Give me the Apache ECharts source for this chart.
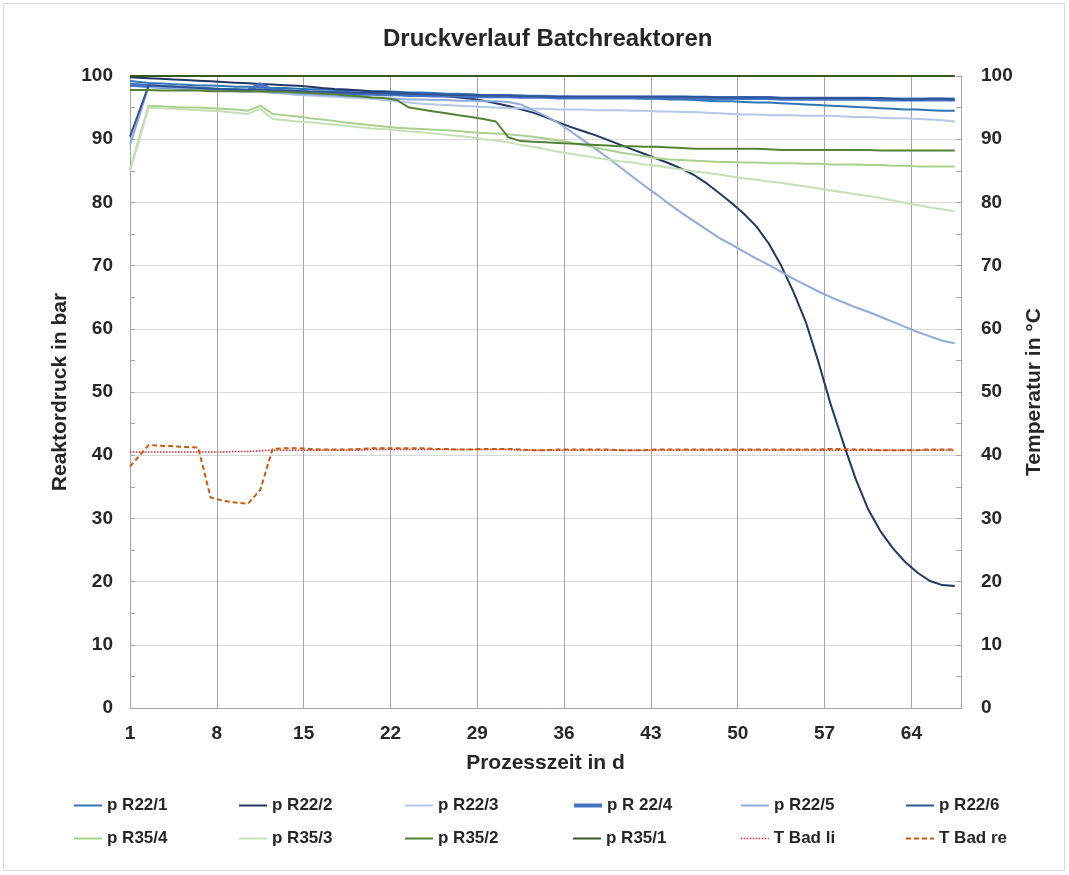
<!DOCTYPE html>
<html>
<head>
<meta charset="utf-8">
<script src="https://cdn.jsdelivr.net/npm/echarts@6/dist/echarts.min.js"></script>
<style>
html,body{margin:0;padding:0;background:#fff;}
#chart{width:1069px;height:875px;}
</style>
</head>
<body>
<div id="chart"></div>
<script>
// Process time (days) of each sample
const days = [1, 2.5, 3.5, 4.5, 5.5, 6.5, 7.5, 8.5, 9.5, 10.5,
  11.5, 12.5, 13.5, 14.5, 15.5, 16.5, 17.5, 18.5, 19.5, 20.5,
  21.5, 22.5, 23.5, 24.5, 25.5, 26.5, 27.5, 28.5, 29.5, 30.5,
  31.5, 32.5, 33.5, 34.5, 35.5, 36.5, 37.5, 38.5, 39.5, 40.5,
  41.5, 42.5, 43.5, 44.5, 45.5, 46.5, 47.5, 48.5, 49.5, 50.5,
  51.5, 52.5, 53.5, 54.5, 55.5, 56.5, 57.5, 58.5, 59.5, 60.5,
  61.5, 62.5, 63.5, 64.5, 65.5, 66.5, 67.5];

const xTicks = [1, 8, 15, 22, 29, 36, 43, 50, 57, 64];

const pR22_1 = [99.2, 98.9, 98.8, 98.7, 98.6, 98.5, 98.5, 98.4, 98.3, 98.3,
  98.2, 98.1, 98.1, 98.0, 97.9, 97.9, 97.8, 97.7, 97.7, 97.6,
  97.6, 97.5, 97.4, 97.4, 97.3, 97.2, 97.2, 97.1, 97.0, 97.0,
  96.9, 96.9, 96.8, 96.8, 96.7, 96.7, 96.6, 96.6, 96.6, 96.5,
  96.5, 96.4, 96.4, 96.3, 96.3, 96.2, 96.1, 96.0, 96.0, 95.9,
  95.8, 95.8, 95.7, 95.6, 95.5, 95.4, 95.3, 95.2, 95.1, 95.0,
  94.9, 94.8, 94.7, 94.7, 94.6, 94.5, 94.5];

const pR22_2 = [99.8, 99.65, 99.55, 99.45, 99.35, 99.25, 99.15, 99.05, 98.95, 98.85,
  98.75, 98.65, 98.55, 98.45, 98.3, 98.1, 97.95, 97.85, 97.7, 97.55,
  97.45, 97.35, 97.25, 97.15, 97.0, 96.8, 96.6, 96.4, 96.1, 95.7,
  95.25, 94.75, 94.2, 93.5, 92.7, 91.95, 91.3, 90.65, 89.9, 89.15,
  88.4, 87.65, 86.9, 86.15, 85.3, 84.3, 83.0, 81.5, 79.9, 78.2,
  76.2, 73.5, 70.0, 65.8, 61.0, 54.8, 48.0, 42.0, 36.3, 31.5,
  28.0, 25.3, 23.1, 21.4, 20.1, 19.45, 19.3];

const pR22_3 = [98.8, 98.6, 98.5, 98.4, 98.2, 98.1, 98.0, 97.9, 97.7, 97.6,
  97.5, 97.3, 97.2, 97.0, 96.9, 96.8, 96.7, 96.6, 96.5, 96.4,
  96.2, 96.0, 95.8, 95.6, 95.5, 95.4, 95.3, 95.2, 95.1, 95.0,
  94.9, 94.9, 94.8, 94.8, 94.7, 94.7, 94.7, 94.6, 94.6, 94.6,
  94.5, 94.5, 94.4, 94.4, 94.3, 94.3, 94.2, 94.1, 94.0, 93.9,
  93.9, 93.8, 93.8, 93.8, 93.7, 93.7, 93.7, 93.6, 93.5, 93.5,
  93.4, 93.3, 93.3, 93.2, 93.1, 93.0, 92.8];

const pR22_4 = [98.6, 98.4, 98.3, 98.2, 98.1, 98.0, 97.9, 97.8, 97.8, 97.7,
  98.7, 97.7, 97.6, 97.5, 97.4, 97.4, 97.3, 97.3, 97.2, 97.2,
  97.1, 97.1, 97.0, 97.0, 96.9, 96.9, 96.9, 96.8, 96.8, 96.8,
  96.8, 96.7, 96.7, 96.7, 96.6, 96.6, 96.6, 96.6, 96.6, 96.6,
  96.6, 96.6, 96.6, 96.6, 96.6, 96.5, 96.5, 96.5, 96.5, 96.5,
  96.5, 96.5, 96.4, 96.4, 96.4, 96.4, 96.4, 96.4, 96.4, 96.4,
  96.3, 96.3, 96.3, 96.3, 96.3, 96.3, 96.3];

const pR22_5 = [89.1, 98.3, 98.2, 98.1, 98.0, 97.9, 97.8, 97.7, 97.6, 97.5,
  97.6, 97.4, 97.3, 97.2, 97.1, 97.0, 96.9, 96.8, 96.7, 96.6,
  96.5, 96.4, 96.3, 96.3, 96.2, 96.2, 96.1, 96.1, 96.0, 96.0,
  95.9, 95.5, 94.6, 93.7, 92.6, 91.3, 89.9, 88.5, 87.1, 85.6,
  84.1, 82.6, 81.2, 79.7, 78.3, 77.0, 75.7, 74.4, 73.3, 72.2,
  71.1, 70.1, 69.0, 67.9, 66.9, 65.9, 65.0, 64.2, 63.4, 62.7,
  61.9, 61.1, 60.3, 59.5, 58.8, 58.1, 57.7];

const pR22_6 = [90.4, 98.5, 98.4, 98.3, 98.2, 98.1, 98.0, 97.9, 97.8, 97.8,
  97.9, 97.7, 97.7, 97.6, 97.5, 97.5, 97.4, 97.4, 97.3, 97.3,
  97.3, 97.2, 97.2, 97.1, 97.1, 97.0, 97.0, 97.0, 96.9, 96.9,
  96.9, 96.8, 96.8, 96.7, 96.7, 96.7, 96.7, 96.7, 96.7, 96.7,
  96.7, 96.7, 96.7, 96.7, 96.7, 96.7, 96.7, 96.6, 96.6, 96.6,
  96.6, 96.6, 96.5, 96.5, 96.5, 96.5, 96.5, 96.5, 96.5, 96.5,
  96.5, 96.4, 96.3, 96.3, 96.4, 96.4, 96.3];

const pR35_4 = [85.2, 95.3, 95.2, 95.1, 95.0, 95.0, 94.9, 94.8, 94.7, 94.5,
  95.3, 94.0, 93.8, 93.6, 93.3, 93.1, 92.9, 92.6, 92.4, 92.2,
  92.0, 91.8, 91.7, 91.6, 91.5, 91.4, 91.3, 91.1, 91.0, 90.9,
  90.8, 90.6, 90.4, 90.1, 89.8, 89.5, 89.1, 88.7, 88.3, 87.9,
  87.6, 87.3, 87.0, 86.8, 86.7, 86.6, 86.5, 86.4, 86.4, 86.3,
  86.3, 86.2, 86.2, 86.2, 86.1, 86.1, 86.0, 86.0, 86.0, 85.9,
  85.9, 85.8, 85.8, 85.7, 85.7, 85.7, 85.7];

const pR35_3 = [85.0, 95.0, 94.9, 94.8, 94.7, 94.6, 94.5, 94.4, 94.2, 94.0,
  94.8, 93.2, 93.0, 92.8, 92.7, 92.5, 92.3, 92.1, 91.9, 91.7,
  91.6, 91.4, 91.2, 91.1, 90.9, 90.7, 90.5, 90.3, 90.0, 89.8,
  89.5, 89.1, 88.8, 88.4, 88.0, 87.7, 87.4, 87.1, 86.8, 86.5,
  86.3, 86.0, 85.8, 85.5, 85.2, 84.9, 84.7, 84.4, 84.1, 83.8,
  83.6, 83.3, 83.1, 82.8, 82.5, 82.2, 81.9, 81.6, 81.3, 81.0,
  80.7, 80.3, 79.9, 79.6, 79.2, 78.9, 78.6];

const pR35_2 = [97.8, 97.8, 97.7, 97.7, 97.7, 97.7, 97.6, 97.6, 97.6, 97.6,
  97.6, 97.5, 97.5, 97.4, 97.3, 97.2, 97.1, 96.9, 96.8, 96.6,
  96.5, 96.2, 95.0, 94.7, 94.4, 94.1, 93.8, 93.5, 93.2, 92.8,
  90.3, 89.7, 89.6, 89.5, 89.4, 89.3, 89.2, 89.1, 89.0, 88.9,
  88.9, 88.8, 88.8, 88.7, 88.6, 88.5, 88.5, 88.5, 88.5, 88.5,
  88.5, 88.4, 88.3, 88.3, 88.3, 88.3, 88.3, 88.3, 88.3, 88.3,
  88.2, 88.2, 88.2, 88.2, 88.2, 88.2, 88.2];

const pR35_1 = [100, 100, 100, 100, 100, 100, 100, 100, 100, 100,
  100, 100, 100, 100, 100, 100, 100, 100, 100, 100,
  100, 100, 100, 100, 100, 100, 100, 100, 100, 100,
  100, 100, 100, 100, 100, 100, 100, 100, 100, 100,
  100, 100, 100, 100, 100, 100, 100, 100, 100, 100,
  100, 100, 100, 100, 100, 100, 100, 100, 100, 100,
  100, 100, 100, 100, 100, 100, 100];

const tBadLi = [40.5, 40.5, 40.5, 40.5, 40.5, 40.5, 40.5, 40.5, 40.6, 40.6,
  40.7, 40.8, 40.8, 40.8, 40.8, 40.8, 40.8, 40.8, 40.8, 40.9,
  40.9, 40.9, 40.9, 40.9, 40.9, 40.9, 40.9, 40.9, 40.9, 40.9,
  40.9, 40.8, 40.8, 40.8, 40.8, 40.8, 40.8, 40.8, 40.8, 40.8,
  40.8, 40.8, 40.8, 40.8, 40.8, 40.8, 40.8, 40.8, 40.8, 40.8,
  40.8, 40.8, 40.8, 40.8, 40.8, 40.8, 40.8, 40.8, 40.8, 40.8,
  40.8, 40.8, 40.8, 40.8, 40.8, 40.8, 40.8];

const tBadRe = [38.2, 41.6, 41.5, 41.4, 41.3, 41.2, 33.3, 32.8, 32.5, 32.3,
  34.5, 41.0, 41.1, 41.1, 41.0, 40.9, 40.9, 40.9, 41.0, 41.1,
  41.1, 41.1, 41.1, 41.1, 41.0, 41.0, 40.9, 40.9, 41.0, 41.0,
  41.0, 40.9, 40.8, 40.8, 40.9, 40.9, 40.9, 40.9, 40.9, 40.8,
  40.8, 40.8, 40.9, 40.9, 40.9, 40.9, 40.9, 40.9, 40.9, 40.9,
  40.9, 40.9, 40.9, 40.9, 40.9, 40.9, 41.0, 41.0, 40.9, 40.9,
  40.8, 40.8, 40.8, 40.8, 40.9, 40.9, 40.9];

const seriesDefs = [
  {name: 'p R22/1', data: pR22_1, color: '#2E75B6', width: 2, type: 'solid', axis: 0},
  {name: 'p R22/2', data: pR22_2, color: '#203864', width: 2, type: 'solid', axis: 0},
  {name: 'p R22/3', data: pR22_3, color: '#B4C7E7', width: 2, type: 'solid', axis: 0},
  {name: 'p R 22/4', data: pR22_4, color: '#4472C4', width: 4, type: 'solid', axis: 0},
  {name: 'p R22/5', data: pR22_5, color: '#8FAADC', width: 2, type: 'solid', axis: 0},
  {name: 'p R22/6', data: pR22_6, color: '#2F5597', width: 2, type: 'solid', axis: 0},
  {name: 'p R35/4', data: pR35_4, color: '#A9D18E', width: 2, type: 'solid', axis: 0},
  {name: 'p R35/3', data: pR35_3, color: '#C5E0B4', width: 2, type: 'solid', axis: 0},
  {name: 'p R35/2', data: pR35_2, color: '#548235', width: 2, type: 'solid', axis: 0},
  {name: 'p R35/1', data: pR35_1, color: '#385723', width: 2, type: 'solid', axis: 0},
  {name: 'T Bad li', data: tBadLi, color: '#E8202A', width: 1.5, type: [1.5, 1.5], axis: 1},
  {name: 'T Bad re', data: tBadRe, color: '#C55A11', width: 2, type: [5, 3], axis: 1}
];

const txt = '#262626';
const font = 'Liberation Sans, Arial, sans-serif';

const legendCols = [73, 238, 404, 572, 740, 905];
const legendRows = [797, 830];

const chart = echarts.init(document.getElementById('chart'), null, {renderer: 'canvas'});

const option = {
  backgroundColor: '#ffffff',
  animation: false,
  textStyle: {fontFamily: font},
  title: {
    text: 'Druckverlauf Batchreaktoren',
    left: 378, top: 22,
    textStyle: {fontSize: 24, fontWeight: 'bold', color: txt, fontFamily: font}
  },
  graphic: [{
    type: 'rect', left: 1, top: 1,
    shape: {width: 1061, height: 867},
    style: {fill: 'none', stroke: '#D9D9D9', lineWidth: 1},
    silent: true
  }],
  legend: seriesDefs.map((s, i) => ({
    data: [s.name],
    left: legendCols[i % 6],
    top: legendRows[Math.floor(i / 6)],
    padding: 0,
    itemWidth: 28, itemHeight: 14, itemGap: 6,
    itemStyle: {opacity: 0, borderWidth: 0},
    lineStyle: {width: s.width},
    textStyle: {fontSize: 17, fontWeight: 'bold', color: txt, fontFamily: font},
    selectedMode: false
  })),
  grid: {left: 130, right: 108, top: 76, bottom: 167, containLabel: false},
  xAxis: {
    type: 'value', min: 1, max: 68,
    name: 'Prozesszeit in d', nameLocation: 'middle', nameGap: 45,
    nameTextStyle: {fontSize: 21, fontWeight: 'bold', color: txt, fontFamily: font},
    axisLine: {show: true, lineStyle: {color: '#A6A6A6', width: 1}},
    axisTick: {show: false, customValues: xTicks},
    axisLabel: {customValues: xTicks, fontSize: 19, fontWeight: 'bold', color: txt, margin: 16, fontFamily: font},
    splitLine: {show: true, lineStyle: {color: '#A6A6A6', width: 1}}
  },
  yAxis: [{
    type: 'value', min: 0, max: 100, interval: 10, position: 'left',
    name: 'Reaktordruck in bar', nameLocation: 'middle', nameGap: 56, nameRotate: 90,
    nameTextStyle: {fontSize: 21, fontWeight: 'bold', color: txt, fontFamily: font},
    axisLine: {show: true, lineStyle: {color: '#A6A6A6', width: 1}},
    axisTick: {show: true, inside: true, length: 5, lineStyle: {color: '#A6A6A6'}},
    minorTick: {show: true, splitNumber: 2, length: 5, lineStyle: {color: '#A6A6A6'}},
    axisLabel: {fontSize: 19, fontWeight: 'bold', color: txt, margin: 17, fontFamily: font},
    splitLine: {show: true, lineStyle: {color: '#D9D9D9', width: 1}}
  }, {
    type: 'value', min: 0, max: 100, interval: 10, position: 'right',
    name: 'Temperatur in °C', nameLocation: 'middle', nameGap: 57, nameRotate: 90,
    nameTextStyle: {fontSize: 21, fontWeight: 'bold', color: txt, fontFamily: font},
    axisLine: {show: true, lineStyle: {color: '#A6A6A6', width: 1}},
    axisTick: {show: true, inside: true, length: 5, lineStyle: {color: '#A6A6A6'}},
    minorTick: {show: true, splitNumber: 2, length: 5, lineStyle: {color: '#A6A6A6'}},
    axisLabel: {fontSize: 19, fontWeight: 'bold', color: txt, margin: 20, fontFamily: font},
    splitLine: {show: false}
  }],
  series: seriesDefs.map(s => ({
    name: s.name,
    type: 'line',
    yAxisIndex: s.axis,
    data: days.map((d, i) => [d, s.data[i]]),
    symbol: 'none',
    showSymbol: false,
    color: s.color,
    lineStyle: {color: s.color, width: s.width, type: s.type},
    itemStyle: {color: s.color},
    clip: true
  }))
};

chart.setOption(option);
</script>
</body>
</html>
